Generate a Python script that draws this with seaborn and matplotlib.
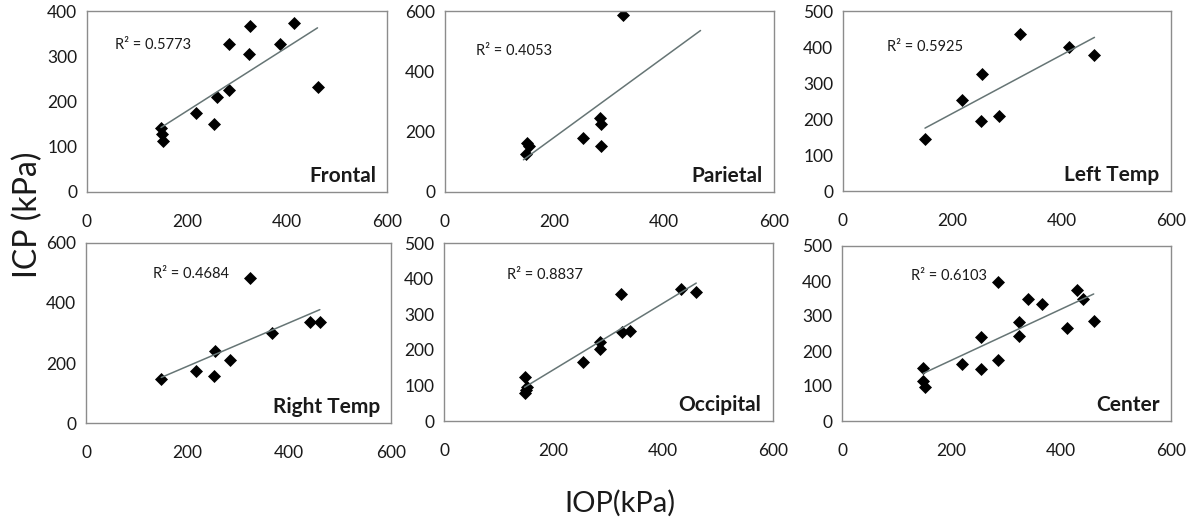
import numpy as np
import pandas as pd
import seaborn as sns
import matplotlib
matplotlib.use('Agg')
import matplotlib.pyplot as plt

sns.set_style('white')
plt.rcParams['font.family'] = ['Lato', 'DejaVu Sans']

# IOP (x) and ICP (y) in kPa
frontal_iop = [148, 149, 152, 218, 254, 260, 284, 284, 324, 326, 386, 414, 461]
frontal_icp = [142, 129, 112, 174, 151, 210, 225, 326, 305, 366, 327, 374, 233]

parietal_iop = [148, 149, 154, 252, 283, 284, 284, 324]
parietal_icp = [126, 161, 152, 180, 244, 226, 152, 587]

left_temp_iop = [150, 218, 253, 254, 286, 324, 413, 460]
left_temp_icp = [144, 253, 195, 326, 208, 435, 401, 377]

right_temp_iop = [148, 216, 252, 254, 283, 322, 365, 441, 460]
right_temp_icp = [148, 174, 157, 239, 211, 484, 300, 337, 337]

occipital_iop = [148, 151, 149, 147, 253, 284, 285, 323, 324, 339, 432, 460]
occipital_icp = [123, 96, 88, 79, 167, 202, 221, 357, 250, 253, 372, 361]

center_iop = [148, 148, 151, 218, 253, 254, 284, 284, 323, 322, 339, 365, 411, 429, 440, 459]
center_icp = [151, 114, 97, 164, 149, 240, 174, 396, 283, 244, 349, 335, 265, 374, 349, 287]

names = ['Frontal', 'Parietal', 'Left Temp', 'Right Temp', 'Occipital', 'Center']
r2_labels = ['R² = 0.5773', 'R² = 0.4053', 'R² = 0.5925',
             'R² = 0.4684', 'R² = 0.8837', 'R² = 0.6103']
y_max = [400, 600, 500, 600, 500, 500]
y_step = [100, 200, 100, 200, 100, 100]
# trendline forecast span (None = data range); Parietal line runs past the data
trend_span = [None, (143, 466), None, None, None, None]

iop = [frontal_iop, parietal_iop, left_temp_iop, right_temp_iop, occipital_iop, center_iop]
icp = [frontal_icp, parietal_icp, left_temp_icp, right_temp_icp, occipital_icp, center_icp]

# layout in pixels: left, top, right, bottom
W, H = 1192, 522
boxes = [(87, 11, 387, 192), (445, 11, 774, 192), (843, 11, 1171, 191),
         (86, 243, 391, 423), (444, 243, 773, 421), (842, 246, 1171, 421)]
r2_pos = [(0.093, 0.81), (0.094, 0.78), (0.134, 0.80),
          (0.22, 0.83), (0.19, 0.82), (0.21, 0.83)]

frame = '#8c8c8c'
fig = plt.figure(figsize=(W / 100, H / 100), dpi=100)

for i, name in enumerate(names):
    l, t, r, b = boxes[i]
    ax = fig.add_axes([l / W, 1 - b / H, (r - l) / W, (b - t) / H])
    df = pd.DataFrame({'IOP': iop[i], 'ICP': icp[i]})
    if trend_span[i] is not None:
        ax.set_xlim(*trend_span[i])
    sns.regplot(data=df, x='IOP', y='ICP', ax=ax, ci=None, marker='D',
                truncate=trend_span[i] is None,
                scatter_kws=dict(s=44, color='black', linewidths=0, alpha=1),
                line_kws=dict(color='#667575', lw=1.1))
    ax.set_xlim(0, 600)
    ax.set_ylim(0, y_max[i])
    ax.set_xticks(np.arange(0, 601, 200))
    ax.set_yticks(np.arange(0, y_max[i] + 1, y_step[i]))
    ax.set_xlabel('')
    ax.set_ylabel('')
    for s in ax.spines.values():
        s.set_color(frame)
        s.set_linewidth(1)
    ax.tick_params(axis='both', colors=frame, labelcolor='#1a1a1a',
                   labelsize=12.5, length=4, width=1, direction='out')
    ax.tick_params(axis='x', pad=12)
    ax.tick_params(axis='y', pad=3)
    ax.text(*r2_pos[i], r2_labels[i], transform=ax.transAxes, fontsize=10.5,
            ha='left', va='center', color='#1a1a1a')
    ax.text(0.965, 0.035, name, transform=ax.transAxes, fontsize=15,
            fontweight='bold', ha='right', va='bottom', color='#1a1a1a')

fig.text(28 / W, 1 - 215 / H, 'ICP (kPa)', rotation=90, fontsize=23,
         ha='center', va='center', color='#1a1a1a')
fig.text(620 / W, 1 - 503 / H, 'IOP(kPa)', fontsize=21,
         ha='center', va='center', color='#1a1a1a')

fig.savefig('out.png', dpi=100)
plt.close()
